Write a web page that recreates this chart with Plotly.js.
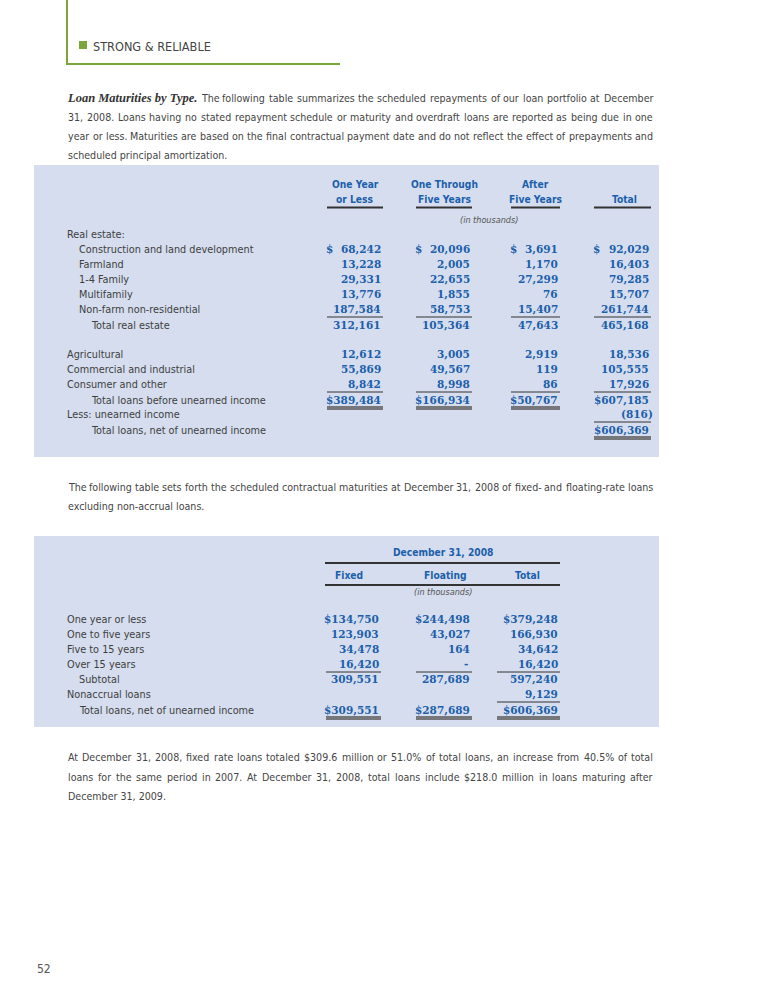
<!DOCTYPE html>
<html>
<head>
<meta charset="utf-8">
<script src="https://cdn.plot.ly/plotly-3.0.1.min.js"></script>
<style>
  body { margin: 0; background: #fff; }
  #page { width: 765px; height: 990px; }
</style>
</head>
<body>
<div id="page"></div>
<script>
// ---- data: loan maturities by type (in thousands) ----
var reLabels = ['Construction and land development', 'Farmland', '1-4 Family', 'Multifamily', 'Non-farm non-residential'];
var reOneYear = [68242, 13228, 29331, 13776, 187584];
var reOneToFive = [20096, 2005, 22655, 1855, 58753];
var reAfterFive = [3691, 1170, 27299, 76, 15407];
var reTotal = [92029, 16403, 79285, 15707, 261744];
var reSubtotal = [312161, 105364, 47643, 465168];

var otherLabels = ['Agricultural', 'Commercial and industrial', 'Consumer and other'];
var otherOneYear = [12612, 55869, 8842];
var otherOneToFive = [3005, 49567, 8998];
var otherAfterFive = [2919, 119, 86];
var otherTotal = [18536, 105555, 17926];

var totalBefore = [389484, 166934, 50767, 607185];
var unearnedIncome = -816;
var netOfUnearned = 606369;

var t1Headers = [['One Year', 'or Less'], ['One Through', 'Five Years'], ['After', 'Five Years'], ['', 'Total']];

// ---- data: fixed vs floating maturities ----
var matLabels = ['One year or less', 'One to five years', 'Five to 15 years', 'Over 15 years'];
var fixedVals = [134750, 123903, 34478, 16420];
var floatingVals = [244498, 43027, 164, 0];
var matTotals = [379248, 166930, 34642, 16420];
var matSubtotal = [309551, 287689, 597240];
var nonaccrual = 9129;
var matGrand = [309551, 287689, 606369];
var t2Headers = ['Fixed', 'Floating', 'Total'];

// ---- text ----
var para1 = [
  'The following table summarizes the scheduled repayments of our loan portfolio at December',
  '31, 2008. Loans having no stated repayment schedule or maturity and overdraft loans are reported as being due in one',
  'year or less. Maturities are based on the final contractual payment date and do not reflect the effect of prepayments and',
  'scheduled principal amortization.'
];
var para2 = [
  'The following table sets forth the scheduled contractual maturities at December 31, 2008 of fixed- and floating-rate loans',
  'excluding non-accrual loans.'
];
var para3 = [
  'At December 31, 2008, fixed rate loans totaled $309.6 million or 51.0% of total loans, an increase from 40.5% of total',
  'loans for the same period in 2007. At December 31, 2008, total loans include $218.0 million in loans maturing after',
  'December 31, 2009.'
];

// ---- styles ----
var BLUE = '#1c5fab';
var GREEN = '#7ca53c';
var BODY = '#454545';
var BG = '#d5ddee';
var SANS = '"DejaVu Sans Condensed", sans-serif';
var NUMF = '"DejaVu Serif", serif';
var BODY_SIZE = 10.6;
var LABEL_SIZE = 10.8;

var ann = [];
var shapes = [];

function txt(x, y, text, anchor, size, color, family) {
  ann.push({
    x: x, y: y, xref: 'x', yref: 'y', text: text, showarrow: false,
    xanchor: anchor || 'left', yanchor: 'middle',
    font: {size: size || BODY_SIZE, color: color || BODY, family: family || SANS}
  });
}
function label(x, y, text) { txt(x, y, text, 'left', LABEL_SIZE, '#3f3f3f'); }
function num(x, y, text) {
  txt(x, y, '<b>' + text + '</b>', 'right', 10.5, BLUE, NUMF);
}
function line(x0, x1, y0, y1, w, c) {
  shapes.push({type: 'line', xref: 'x', yref: 'y', x0: x0, x1: x1, y0: y0, y1: y1,
    line: {color: c || '#333', width: w || 1}});
}
function hline(x0, x1, y, w, c) { line(x0, x1, y, y, w, c); }
function dbl(x0, x1, y) {
  hline(x0, x1, y, 1.3, '#555');
  hline(x0, x1, y + 2, 1.3, '#555');
}
function fmt(v) { return v.toLocaleString('en-US'); }

// justified paragraph lines: spread words between x0 and x1
var ctx = document.createElement('canvas').getContext('2d');
ctx.font = BODY_SIZE + 'px "DejaVu Sans Condensed"';
function justify(text, x0, x1, y, last) {
  if (last) { txt(x0, y, text); return; }
  var words = text.split(' ');
  var widths = words.map(function(w) { return ctx.measureText(w).width; });
  var sum = widths.reduce(function(a, b) { return a + b; }, 0);
  var gap = (x1 - x0 - sum) / (words.length - 1);
  var x = x0;
  for (var k = 0; k < words.length; k++) {
    txt(x, y, words[k]);
    x += widths[k] + gap;
  }
}
function paragraph(lines, x0, x1, y0, step) {
  for (var k = 0; k < lines.length; k++)
    justify(lines[k], x0, x1, y0 + k * step, k === lines.length - 1);
}

// header band
line(67, 67, 0, 64, 2, GREEN);
hline(66, 340, 64, 2, GREEN);
shapes.push({type: 'rect', xref: 'x', yref: 'y', x0: 79, x1: 87, y0: 41, y1: 49, fillcolor: GREEN, line: {width: 0}});
txt(91, 46, 'STRONG &amp; RELIABLE', 'left', 12.6, '#444');

// paragraph 1
txt(65, 98, '<b><i>Loan Maturities by Type.</i></b>', 'left', 12.5, '#333', '"Liberation Serif", serif');
justify(para1[0], 199, 651, 98, false);
paragraph(para1.slice(1), 66, 651, 117, 19);

// table 1
shapes.push({type: 'rect', xref: 'x', yref: 'y', x0: 34, x1: 659, y0: 165, y1: 457, fillcolor: BG, line: {width: 0}, layer: 'below'});
var c1 = [[327, 383], [416, 472], [511, 560], [594, 651]];
for (var c = 0; c < 4; c++) {
  var mid = (c1[c][0] + c1[c][1]) / 2;
  var anchor = c === 3 ? 'right' : 'center';
  var hx = c === 3 ? c1[c][1] - 12 : mid;
  if (t1Headers[c][0]) txt(hx, 184, '<b>' + t1Headers[c][0] + '</b>', anchor, 10.2, BLUE);
  txt(hx, 199, '<b>' + t1Headers[c][1] + '</b>', anchor, 10.2, BLUE);
  hline(c1[c][0], c1[c][1], 207.5, 2, '#333');
}
txt(489, 220, '<i>(in thousands)</i>', 'center', 9, '#555');

label(65, 234, 'Real estate:');
var y = 249;
for (var r = 0; r < reLabels.length; r++) {
  label(77, y, reLabels[r]);
  var vals = [reOneYear[r], reOneToFive[r], reAfterFive[r], reTotal[r]];
  for (c = 0; c < 4; c++) {
    num(c1[c][1], y, fmt(vals[c]));
    if (r === 0) num(c1[c][0] + 8, y, '$');
  }
  y += 15;
}
for (c = 0; c < 4; c++) hline(c1[c][0], c1[c][1], 317, 1);
label(89, 325, 'Total real estate');
for (c = 0; c < 4; c++) num(c1[c][1], 325, fmt(reSubtotal[c]));

y = 354;
for (r = 0; r < otherLabels.length; r++) {
  label(65, y, otherLabels[r]);
  var ov = [otherOneYear[r], otherOneToFive[r], otherAfterFive[r], otherTotal[r]];
  for (c = 0; c < 4; c++) num(c1[c][1], y, fmt(ov[c]));
  y += 15;
}
for (c = 0; c < 4; c++) hline(c1[c][0], c1[c][1], 392, 1);
label(89, 400, 'Total loans before unearned income');
for (c = 0; c < 4; c++) num(c1[c][1], 400, '$' + fmt(totalBefore[c]));
for (c = 0; c < 3; c++) dbl(c1[c][0], c1[c][1], 407);
label(65, 414, 'Less: unearned income');
num(c1[3][1] + 4, 414, '(' + fmt(-unearnedIncome) + ')');
hline(c1[3][0], c1[3][1], 422, 1);
label(89, 430, 'Total loans, net of unearned income');
num(c1[3][1], 430, '$' + fmt(netOfUnearned));
dbl(c1[3][0], c1[3][1], 437);

// paragraph 2
paragraph(para2, 66, 651, 487, 19);

// table 2
shapes.push({type: 'rect', xref: 'x', yref: 'y', x0: 34, x1: 659, y0: 536, y1: 727, fillcolor: BG, line: {width: 0}, layer: 'below'});
var c2 = [[326, 381], [416, 472], [497, 560]];
txt(443, 552, '<b>December 31, 2008</b>', 'center', 10.2, BLUE);
hline(325, 560, 563, 2, '#333');
var hcx = [349, 445, 527];
for (c = 0; c < 3; c++) txt(hcx[c], 575, '<b>' + t2Headers[c] + '</b>', 'center', 10.2, BLUE);
hline(325, 560, 585, 2, '#333');
txt(443, 592, '<i>(in thousands)</i>', 'center', 9, '#555');

y = 619;
for (r = 0; r < matLabels.length; r++) {
  label(65, y, matLabels[r]);
  var mv = [fixedVals[r], floatingVals[r], matTotals[r]];
  for (c = 0; c < 3; c++) {
    var s = mv[c] === 0 ? '-' : fmt(mv[c]);
    if (r === 0) s = '$' + s;
    num(c2[c][1] - (mv[c] === 0 ? 2 : 0), y, s);
  }
  y += 15;
}
for (c = 0; c < 3; c++) hline(c2[c][0], c2[c][1], 672, 1);
label(77, 679, 'Subtotal');
for (c = 0; c < 3; c++) num(c2[c][1], 679, fmt(matSubtotal[c]));
label(65, 694, 'Nonaccrual loans');
num(c2[2][1], 694, fmt(nonaccrual));
hline(c2[2][0], c2[2][1], 702, 1);
label(77, 710, 'Total loans, net of unearned income');
for (c = 0; c < 3; c++) {
  num(c2[c][1], 710, '$' + fmt(matGrand[c]));
  dbl(c2[c][0], c2[c][1], 717);
}

// paragraph 3
paragraph(para3, 66, 651, 757, 19.5);

// page number
txt(35, 969, '52', 'left', 12, '#555');

var layout = {
  width: 765, height: 990,
  margin: {l: 0, r: 0, t: 0, b: 0},
  paper_bgcolor: '#fff', plot_bgcolor: '#fff',
  showlegend: false,
  xaxis: {range: [0, 765], visible: false, fixedrange: true},
  yaxis: {range: [990, 0], visible: false, fixedrange: true},
  shapes: shapes,
  annotations: ann
};

Plotly.newPlot('page', [{x: [], y: [], type: 'scatter', mode: 'markers'}], layout, {displayModeBar: false, staticPlot: true});
</script>
</body>
</html>
